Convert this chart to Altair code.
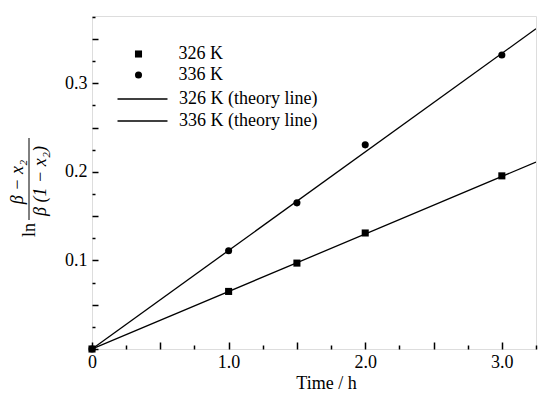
import altair as alt
import pandas as pd

# measured data (Time / h vs ln[(beta - x2) / (beta (1 - x2))])
time_h = [0.0, 1.0, 1.5, 2.0, 3.0]
val_326 = [0.0, 0.065, 0.097, 0.131, 0.1955]
val_336 = [0.0, 0.111, 0.165, 0.2305, 0.332]
# theory lines (end points)
line_t = [0.0, 3.25]
line_326 = [0.0, 0.211]
line_336 = [0.0, 0.3616]
series_pts = ["326 K", "336 K"]
series_lines = ["326 K (theory line)", "336 K (theory line)"]
x_label_vals = [0, 1.0, 2.0, 3.0]
y_label_vals = [0.1, 0.2, 0.3]
x_tick_vals = [0, 0.25, 0.5, 0.75, 1.0, 1.25, 1.5, 1.75, 2.0, 2.25, 2.5, 2.75, 3.0, 3.25]
y_tick_vals = [0, 0.025, 0.05, 0.075, 0.1, 0.125, 0.15, 0.175, 0.2, 0.225, 0.25,
               0.275, 0.3, 0.325, 0.35, 0.375]

pts = pd.DataFrame({
    "t": time_h * 2,
    "v": val_326 + val_336,
    "s": [series_pts[0]] * len(time_h) + [series_pts[1]] * len(time_h),
})
lines = pd.DataFrame({
    "t": line_t * 2,
    "v": line_326 + line_336,
    "s": [series_lines[0]] * 2 + [series_lines[1]] * 2,
})

FONT = "Liberation Serif, Times New Roman, serif"
FS = 18
W, H = 444, 333
xs = alt.Scale(domain=[0, 3.25], nice=False, zero=False)
ys = alt.Scale(domain=[0, 0.376], nice=False, zero=False)

points = alt.Chart(pts).mark_point(filled=True, opacity=1, color="black", size=50).encode(
    x=alt.X("t:Q", scale=xs, axis=alt.Axis(
        orient="bottom", values=x_label_vals,
        labelExpr="datum.value == 0 ? '0' : format(datum.value, '.1f')",
        ticks=False, domain=False, grid=False, labelFlush=False,
        labelFont=FONT, labelFontSize=FS, labelColor="black", labelPadding=4,
        title="Time / h", titleFont=FONT, titleFontSize=FS, titleFontWeight="normal",
        titleColor="black", titleX=234, titleY=25, titleBaseline="top")),
    y=alt.Y("v:Q", scale=ys, axis=alt.Axis(
        orient="left", values=y_label_vals, format=".1f",
        ticks=False, domain=False, grid=False, labelFlush=False,
        labelFont=FONT, labelFontSize=FS, labelColor="black", labelPadding=5, title=None)),
    shape=alt.Shape("s:N", scale=alt.Scale(domain=series_pts, range=["square", "circle"]),
                    legend=alt.Legend(title=None, orient="none", legendX=37.5, legendY=29,
                                      padding=0, symbolSize=50, labelOffset=31, rowPadding=3,
                                      labelFont=FONT, labelFontSize=FS, labelColor="black",
                                      symbolFillColor="black")),
)

theory = alt.Chart(lines).mark_line(color="black", strokeWidth=1.3, clip=True).encode(
    x=alt.X("t:Q", scale=xs, axis=alt.Axis(
        orient="top", offset=-H, values=x_tick_vals,
        tickSize=alt.ExprRef("abs(datum.value*2 - round(datum.value*2)) < 1e-6 ? 7 : 4"),
        labels=False, domain=False, grid=False, title=None,
        tickColor="black", tickWidth=1.5)),
    y=alt.Y("v:Q", scale=ys, axis=alt.Axis(
        orient="right", offset=-W, values=y_tick_vals,
        tickSize=alt.ExprRef("abs(datum.value*20 - round(datum.value*20)) < 1e-6 ? 6 : 3"),
        labels=False, domain=False, grid=False, title=None,
        tickColor="black", tickWidth=1.5)),
    stroke=alt.Stroke("s:N", scale=alt.Scale(domain=series_lines, range=["black", "black"]),
                      legend=alt.Legend(title=None, orient="none", legendX=41.5, legendY=74,
                                        padding=0, symbolType="M-7.14,0H7.14", symbolSize=49,
                                        symbolStrokeWidth=1.3, labelOffset=27.5, rowPadding=4,
                                        labelFont=FONT, labelFontSize=FS, labelColor="black")),
)


def ytext(s, x, y, style="normal"):
    return alt.Chart(alt.Data(values=[{"t": s}])).mark_text(
        angle=270, font=FONT, fontSize=FS, fontStyle=style, align="center",
        baseline="middle", color="black").encode(
        text="t:N", x=alt.value(x), y=alt.value(y))


ln_txt = ytext("ln", -62, 214)
num_txt = ytext("β − x₂", -74, 166, "italic")
den_txt = ytext("β (1 − x₂)", -51, 165, "italic")
bar = alt.Chart(alt.Data(values=[{"a": 1}])).mark_rule(color="black", strokeWidth=1).encode(
    x=alt.value(-63), y=alt.value(122), y2=alt.value(204))

chart = alt.layer(theory, points, ln_txt, num_txt, den_txt, bar).resolve_scale(
    x="independent", y="independent"
).resolve_axis(x="independent", y="independent").properties(
    width=W, height=H, autosize="none",
    padding={"left": 84, "top": 8, "right": 3, "bottom": 42},
).configure_view(stroke="black", strokeWidth=1.6).configure(background="white")

chart.save("out.html", embed_options={"renderer": "svg", "actions": False})
